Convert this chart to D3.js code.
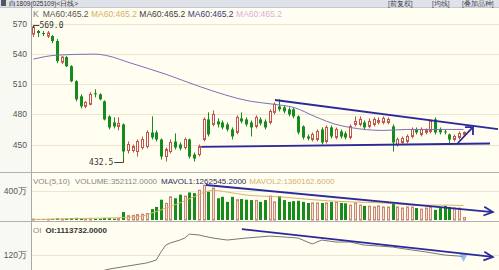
<!DOCTYPE html>
<html>
<head>
<meta charset="utf-8">
<script src="https://cdn.jsdelivr.net/npm/d3@7"></script>
<style>
  body { margin: 0; background: #fffef0; }
  svg { display: block; font-family: "Liberation Sans", Arial, sans-serif; }
</style>
</head>
<body>
<div id="chart"></div>
<script>
// daily candles, one entry per trading day
const open  = [560,563,561,558,558,553,532,537,528,513,498,488,490,501,500,493,478,472,468,470,
               444,444,443,447,448,462,462,455,438,443,453,450,447,455,440,440,455,475,470,473,
               472,470,465,462,476,475,472,468,475,473,472,482,488,487,485,485,478,468,458,455,
               455,465,453,467,457,463,461,457,470,470,472,468,470,472,472,472,468,450,452,453,
               458,465,460,462,463,475,465,463,460,455,457,460];
const close = [567,561,560,561,553,533,537,528,513,495,488,492,500,500,495,475,467,468,471,443,
               450,448,453,455,462,457,455,438,445,452,447,446,455,438,436,448,475,460,480,470,
               467,465,458,477,473,470,467,477,471,467,483,490,485,483,480,478,462,457,456,460,
               463,452,467,458,465,458,457,468,473,475,467,473,475,474,476,475,452,455,456,458,
               465,462,465,464,473,462,462,462,455,458,461,462];
const high  = [569,564,563,563,559,555,538,538,529,514,500,493,502,505,501,494,479,477,477,471,
               453,450,455,458,464,478,464,456,447,455,461,452,457,456,442,450,477,482,484,476,
               474,472,467,479,482,477,474,479,477,475,485,492,495,489,487,487,479,469,460,462,
               465,467,469,469,467,465,463,470,478,478,474,476,477,477,478,477,470,457,458,460,
               467,467,467,466,475,477,467,465,461,460,463,463];
const low   = [557,557,558,556,551,531,530,527,512,493,486,486,489,497,494,474,465,466,464,432.5,
               441,442,438,445,446,455,453,435,433,441,445,444,445,436,433,438,453,458,468,467,
               465,463,455,460,471,468,458,466,469,465,470,480,483,481,478,476,460,455,454,453,
               453,450,451,456,455,456,455,455,468,468,465,466,468,470,470,470,443,448,450,451,
               456,460,458,460,461,460,460,460,450,453,455,459];
// volume in 万 (10k lots)
const volume = [12,8,10,9,15,22,12,18,25,30,20,15,18,14,16,28,25,18,20,110,
                60,65,75,80,90,150,180,280,230,320,300,350,330,380,370,410,480,390,440,300,
                320,250,320,280,290,280,275,270,250,275,330,250,330,275,250,260,265,250,235,235,
                235,235,235,250,245,235,230,205,235,205,195,190,180,195,180,178,235,180,165,180,
                178,165,150,165,180,140,165,195,180,165,165,35.2];

// MA60 on price (day, value)
const maDays = [0,5,13,16,20,28,35,46,51,55,60,64,67,74,79,85,91];
const maVals = [535,539,540,538,532,520,508,493,490,487,477,470,467,464,465,465,465];
// volume moving average (万)
const mavolDays = [0,6,14,22,27,31,34,38,41,45,53,60,67,74,81,88,91];
const mavolVals = [8,15,25,45,140,235,320,410,385,345,315,275,250,235,205,205,200];
// open interest (万)
const oiDays = [14,16,20,24,26,27,28,29,31,32,33,35,36,38,41,45,50,53,56,59,61,64,67,70,73,76,80,83,87,90,91];
const oiVals = [45,56,70,84,97,134,165,175,188,197,215,211,206,197,188,197,206,202,197,170,188,179,179,165,161,156,143,134,120,115,111.4];

const priceTicks = [570, 540, 510, 480, 450];
const volTicks = [400];
const oiTicks = [120];

// hand drawn trend lines (day, value)
const priceUpper = [[51.1, 494.3], [98.3, 465.4]];
const priceLower = [[35.5, 447.7], [96.6, 451.0]];
const priceArrow = [[89.8, 451.5], [93.0, 467.4]];
const volTrend = [[36.5, 483], [97.2, 110]];
const oiTrend = [[44.1, 238], [97.2, 111]];

const W = 499, H = 270;
const axisX = 31;

const svg = d3.select("#chart").append("svg")
  .attr("width", W).attr("height", H);

// backgrounds
svg.append("rect").attr("width", W).attr("height", H).attr("fill", "#fffef0");
svg.append("rect").attr("width", axisX).attr("height", H).attr("fill", "#f9f9f3");

// scales
const x = d3.scaleLinear().domain([0, 98]).range([33.4, 496.6]);
const y = d3.scaleLinear().domain([450, 570]).range([144.5, 24]);
const yVol = d3.scaleLinear().domain([0, 400]).range([220, 191]);
const yOi = d3.scaleLinear().domain([120, 220]).range([255, 233]);

const px = v => Math.round(v) + 0.5;

// grid lines
const grid = svg.append("g").attr("stroke", "#ebe6d2").attr("stroke-width", 1);
grid.selectAll(".gp").data(priceTicks).enter().append("line")
  .attr("x1", axisX).attr("x2", W).attr("y1", d => px(y(d))).attr("y2", d => px(y(d)));
grid.selectAll(".gv").data(volTicks).enter().append("line")
  .attr("x1", axisX).attr("x2", W).attr("y1", d => px(yVol(d))).attr("y2", d => px(yVol(d)));
grid.selectAll(".go").data(oiTicks).enter().append("line")
  .attr("x1", axisX).attr("x2", W).attr("y1", d => px(yOi(d))).attr("y2", d => px(yOi(d)));

// axis labels
const lab = svg.append("g").attr("font-size", 8.5).attr("fill", "#555").attr("text-anchor", "end");
lab.selectAll(".lp").data(priceTicks).enter().append("text")
  .attr("x", 27).attr("y", d => y(d) + 3).text(d => d);
lab.selectAll(".lv").data(volTicks).enter().append("text")
  .attr("x", 27).attr("y", d => yVol(d) + 3).text(d => d + "万");
lab.selectAll(".lo").data(oiTicks).enter().append("text")
  .attr("x", 27).attr("y", d => yOi(d) + 3).text(d => d + "万");

// panel frame
svg.append("line").attr("x1", axisX + 0.5).attr("x2", axisX + 0.5).attr("y1", 7).attr("y2", H)
  .attr("stroke", "#a8a8a8");
[172.5, 221.5].forEach(v => {
  svg.append("line").attr("x1", 0).attr("x2", W).attr("y1", v).attr("y2", v).attr("stroke", "#b0b0b0");
});

// title bar
svg.append("rect").attr("width", W).attr("height", 7).attr("fill", "#dfe2e8");
svg.append("line").attr("x1", 0).attr("x2", W).attr("y1", 7.5).attr("y2", 7.5).attr("stroke", "#c4c8d0");
svg.append("rect").attr("x", 1).attr("y", 0).attr("width", 5).attr("height", 6).attr("fill", "#556");
svg.append("text").attr("x", 9).attr("y", 6).attr("font-size", 6.5).attr("fill", "#333")
  .text("白1809(025109)<日线>");
const topRight = [["[前复权]", 388], ["[均线]", 432], ["[叠加品种]", 462]];
svg.selectAll(".tr").data(topRight).enter().append("text")
  .attr("x", d => d[1]).attr("y", 6).attr("font-size", 6.5).attr("fill", "#445")
  .text(d => d[0]);

// candles
const days = d3.range(open.length);
const up = i => close[i] >= open[i];
const upStroke = "#c0564a", downFill = "#168c1c";

const candles = svg.append("g");
candles.selectAll(".wick").data(days).enter().append("line")
  .attr("x1", i => px(x(i))).attr("x2", i => px(x(i)))
  .attr("y1", i => y(high[i])).attr("y2", i => y(low[i]))
  .attr("stroke", i => up(i) ? upStroke : downFill);
candles.selectAll(".body").data(days).enter().append("rect")
  .attr("x", i => up(i) ? Math.round(x(i)) - 0.5 : Math.round(x(i)) - 1)
  .attr("width", i => up(i) ? 2 : 3)
  .attr("y", i => y(Math.max(open[i], close[i])))
  .attr("height", i => Math.max(1, Math.abs(y(open[i]) - y(close[i]))))
  .attr("fill", i => up(i) ? "#fffdf6" : downFill)
  .attr("stroke", i => up(i) ? upStroke : "none");

// MA60
svg.append("path")
  .datum(d3.zip(maDays, maVals))
  .attr("fill", "none").attr("stroke", "#7d70b4").attr("stroke-width", 1)
  .attr("d", d3.line().x(d => x(d[0])).y(d => y(d[1])).curve(d3.curveMonotoneX));

// high / low labels
const hiDay = d3.maxIndex(high), loDay = d3.minIndex(low);
svg.append("path").attr("fill", "none").attr("stroke", "#444")
  .attr("d", `M${px(x(hiDay))},${y(high[hiDay]) + 3}V${px(y(high[hiDay]))}H${x(hiDay) + 6}`);
svg.append("text").attr("x", x(hiDay) + 6).attr("y", y(high[hiDay]) + 3)
  .attr("font-family", "DejaVu Sans Mono").attr("font-size", 8).attr("fill", "#333")
  .text(high[hiDay].toFixed(1));
svg.append("path").attr("fill", "none").attr("stroke", "#444")
  .attr("d", `M${x(loDay) - 9},${px(y(low[loDay]))}H${px(x(loDay))}V${y(low[loDay]) - 3}`);
svg.append("text").attr("x", x(loDay) - 10).attr("y", y(low[loDay]) + 3)
  .attr("text-anchor", "end")
  .attr("font-family", "DejaVu Sans Mono").attr("font-size", 8).attr("fill", "#333")
  .text(low[loDay].toFixed(1));

// header legend
const head = svg.append("text").attr("x", 33).attr("y", 17).attr("font-size", 8.5);
head.append("tspan").attr("fill", "#777").text("K");
["#555", "#d6ae66", "#3c3c3c", "#3a3a7a", "#dcaedc"].forEach((c, k) => {
  head.append("tspan").attr("dx", k ? 2.5 : 4).attr("fill", c).text("MA60:465.2");
});

// volume bars
const vol = svg.append("g");
vol.selectAll("rect").data(days).enter().append("rect")
  .attr("x", i => up(i) ? Math.round(x(i)) - 0.5 : Math.round(x(i)) - 1)
  .attr("width", i => up(i) ? 2 : 3)
  .attr("y", i => yVol(volume[i]))
  .attr("height", i => Math.max(0.5, yVol(0) - yVol(volume[i])))
  .attr("fill", i => up(i) ? "#f5e6d8" : downFill)
  .attr("stroke", i => up(i) ? "#c98676" : "none");

svg.append("path")
  .datum(d3.zip(mavolDays, mavolVals))
  .attr("fill", "none").attr("stroke", "#d8b46c").attr("stroke-width", 1)
  .attr("d", d3.line().x(d => x(d[0])).y(d => yVol(d[1])).curve(d3.curveMonotoneX));

const vhead = svg.append("text").attr("x", 33).attr("y", 184).attr("font-size", 8);
vhead.append("tspan").attr("fill", "#888").text("VOL(5,10)");
vhead.append("tspan").attr("dx", 5).attr("fill", "#888").text("VOLUME:352112.0000");
vhead.append("tspan").attr("dx", 4).attr("fill", "#2c2c5a").text("MAVOL1:1262545.2000");
vhead.append("tspan").attr("dx", 3).attr("fill", "#d6b070").text("MAVOL2:1360162.6000");

// open interest
svg.append("path")
  .datum(d3.zip(oiDays, oiVals))
  .attr("fill", "none").attr("stroke", "#777").attr("stroke-width", 1)
  .attr("d", d3.line().x(d => x(d[0])).y(d => yOi(d[1])));

const ohead = svg.append("text").attr("x", 33).attr("y", 233).attr("font-size", 8);
ohead.append("tspan").attr("fill", "#888").text("OI");
ohead.append("tspan").attr("dx", 4).attr("fill", "#333").attr("font-weight", "bold").text("OI:1113732.0000");

// cursor mark on last OI point
const lastDay = oiDays[oiDays.length - 1];
const lx = x(lastDay), ly = yOi(oiVals[oiVals.length - 1]);
svg.append("path").attr("fill", "#7fb0e8").attr("opacity", 0.8)
  .attr("d", `M${lx - 4},${ly - 3}L${lx + 4},${ly - 3}L${lx},${ly + 5}Z`);

// trend lines
const navy = "#2a2a9c";
const seg = (pts, ys) => d3.line().x(d => x(d[0])).y(d => ys(d[1]))(pts);
const trends = svg.append("g").attr("fill", "none").attr("stroke", navy).attr("stroke-width", 1.8);
trends.append("path").attr("d", seg(priceUpper, y));
trends.append("path").attr("d", seg(priceLower, y));
trends.append("path").attr("d", seg(priceArrow, y));
trends.append("path").attr("d", seg(volTrend, yVol));
trends.append("path").attr("d", seg(oiTrend, yOi));

// arrow heads
const tip = priceArrow[1];
trends.append("path")
  .attr("d", `M${x(tip[0]) - 8},${y(tip[1])}H${x(tip[0])}V${y(tip[1]) + 8}`);
const head2 = (pts, ys) => {
  const [a, b] = pts;
  const x0 = x(a[0]), y0 = ys(a[1]), x1 = x(b[0]), y1 = ys(b[1]);
  const ang = Math.atan2(y1 - y0, x1 - x0);
  const p = s => [x1 - 10 * Math.cos(ang + s), y1 - 10 * Math.sin(ang + s)];
  const [l, r] = [p(0.45), p(-0.45)];
  trends.append("path").attr("d", `M${l}L${x1},${y1}L${r}`);
};
head2(volTrend, yVol);
head2(oiTrend, yOi);
</script>
</body>
</html>
